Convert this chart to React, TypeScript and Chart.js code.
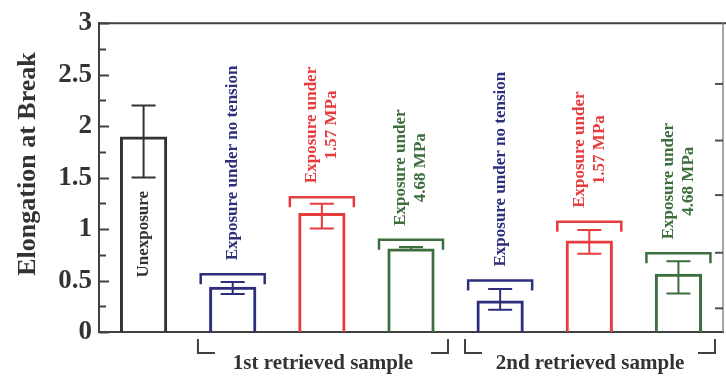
import React, { useEffect, useRef } from "react";
import { Chart, registerables } from "chart.js";

Chart.register(...registerables);

// ---------- data ----------
const categories = [
  "Unexposure",
  "1st: no tension",
  "1st: 1.57 MPa",
  "1st: 4.68 MPa",
  "2nd: no tension",
  "2nd: 1.57 MPa",
  "2nd: 4.68 MPa",
];
const meanValues = [1.9, 0.44, 1.155, 0.81, 0.305, 0.89, 0.566];
const errLow = [1.5, 0.37, 1.005, 0.8, 0.217, 0.76, 0.375];
const errHigh = [2.2, 0.485, 1.245, 0.825, 0.417, 0.99, 0.688];
const bracketLevels: (number | null)[] = [null, 0.56, 1.31, 0.895, 0.5, 1.07, 0.764];
const barLabels: string[][] = [
  ["Unexposure"],
  ["Exposure under no tension"],
  ["Exposure under", "1.57 MPa"],
  ["Exposure under", "4.68 MPa"],
  ["Exposure under no tension"],
  ["Exposure under", "1.57 MPa"],
  ["Exposure under", "4.68 MPa"],
];
const barColors = ["#333333", "#2d2f7c", "#e63c3e", "#3d6e3d", "#2d2f7c", "#e63c3e", "#3d6e3d"];
const yAxisTitle = "Elongation at Break";
const groupLabels = ["1st retrieved sample", "2nd retrieved sample"];
// bracket spans in category-index units
const groupSpans = [
  [0.61, 3.415],
  [3.606, 6.41],
];
const rightAxisTicks = [0.23, 0.77, 1.33, 1.86, 2.41];

const SERIF = '"Liberation Serif", "DejaVu Serif", serif';
const AXIS_COLOR = "#404040";
const TEXT_COLOR = "#333333";

const overlayPlugin = {
  id: "overlay",
  afterDatasetsDraw(chart: any) {
    const ctx: CanvasRenderingContext2D = chart.ctx;
    const xs = chart.scales.x;
    const ys = chart.scales.y;
    const area = chart.chartArea;
    ctx.save();

    // top border
    ctx.strokeStyle = AXIS_COLOR;
    ctx.lineWidth = 2;
    ctx.beginPath();
    ctx.moveTo(area.left - 1, area.top);
    ctx.lineTo(chart.width, area.top);
    ctx.stroke();

    // left inward ticks (major + minor)
    for (let v = 0; v <= 3.0001; v += 0.25) {
      const py = Math.round(ys.getPixelForValue(v)) + 0.5;
      const major = Math.abs(v * 2 - Math.round(v * 2)) < 1e-6;
      ctx.beginPath();
      ctx.moveTo(area.left, py);
      ctx.lineTo(area.left + (major ? 10 : 7), py);
      ctx.stroke();
    }

    // right axis (neighbouring panel)
    ctx.strokeStyle = "#8a8a8a";
    ctx.lineWidth = 1.5;
    ctx.beginPath();
    ctx.moveTo(area.right, area.top);
    ctx.lineTo(area.right, area.bottom);
    ctx.stroke();
    ctx.strokeStyle = "#505050";
    ctx.lineWidth = 2;
    rightAxisTicks.forEach((v) => {
      const py = ys.getPixelForValue(v);
      ctx.beginPath();
      ctx.moveTo(area.right - 8, py);
      ctx.lineTo(area.right, py);
      ctx.stroke();
    });

    // error bars, brackets and rotated labels
    meanValues.forEach((m, i) => {
      const cx = xs.getPixelForValue(i);
      const color = barColors[i];
      ctx.strokeStyle = color;
      ctx.fillStyle = color;
      const yl = ys.getPixelForValue(errLow[i]);
      const yh = ys.getPixelForValue(errHigh[i]);
      ctx.lineWidth = 2;
      ctx.beginPath();
      ctx.moveTo(cx, yl);
      ctx.lineTo(cx, yh);
      ctx.moveTo(cx - 12, yl);
      ctx.lineTo(cx + 12, yl);
      ctx.moveTo(cx - 12, yh);
      ctx.lineTo(cx + 12, yh);
      ctx.stroke();

      const lines = barLabels[i];
      const b = bracketLevels[i];
      if (b === null) {
        ctx.save();
        ctx.font = `bold 17px ${SERIF}`;
        ctx.fillStyle = TEXT_COLOR;
        ctx.translate(cx, ys.getPixelForValue(m / 2));
        ctx.rotate(-Math.PI / 2);
        ctx.textAlign = "center";
        ctx.textBaseline = "middle";
        ctx.fillText(lines[0], 0, 0);
        ctx.restore();
        return;
      }
      const by = ys.getPixelForValue(b);
      ctx.lineWidth = 2.5;
      ctx.beginPath();
      ctx.moveTo(cx - 32, by + 10);
      ctx.lineTo(cx - 32, by);
      ctx.lineTo(cx + 32, by);
      ctx.lineTo(cx + 32, by + 10);
      ctx.stroke();

      ctx.save();
      ctx.font = `bold 17px ${SERIF}`;
      const maxW = Math.max(...lines.map((l) => ctx.measureText(l).width));
      const centerY = by - 14 - maxW / 2;
      lines.forEach((line, k) => {
        const lx = cx + (k - (lines.length - 1) / 2) * 20;
        ctx.save();
        ctx.translate(lx, centerY);
        ctx.rotate(-Math.PI / 2);
        ctx.textAlign = "center";
        ctx.textBaseline = "middle";
        ctx.fillText(line, 0, 0);
        ctx.restore();
      });
      ctx.restore();
    });

    // y-axis title
    ctx.save();
    ctx.fillStyle = TEXT_COLOR;
    ctx.font = `bold 26px ${SERIF}`;
    ctx.translate(28, 164);
    ctx.rotate(-Math.PI / 2);
    ctx.textAlign = "center";
    ctx.textBaseline = "middle";
    ctx.fillText(yAxisTitle, 0, 0);
    ctx.restore();

    // group brackets and labels under the axis
    ctx.strokeStyle = AXIS_COLOR;
    ctx.lineWidth = 2;
    const top = area.bottom + 7;
    const bot = area.bottom + 21;
    groupSpans.forEach(([a, z], g) => {
      const xa = xs.getPixelForValue(a);
      const xz = xs.getPixelForValue(z);
      ctx.beginPath();
      ctx.moveTo(xa, top);
      ctx.lineTo(xa, bot);
      ctx.lineTo(xa + 17, bot);
      ctx.moveTo(xz - 17, bot);
      ctx.lineTo(xz, bot);
      ctx.lineTo(xz, top);
      ctx.stroke();
      ctx.fillStyle = TEXT_COLOR;
      ctx.font = `bold 21px ${SERIF}`;
      ctx.textAlign = "center";
      ctx.textBaseline = "alphabetic";
      ctx.fillText(groupLabels[g], (xa + xz) / 2, area.bottom + 37);
    });

    ctx.restore();
  },
};

export default function App() {
  const canvasRef = useRef<HTMLCanvasElement | null>(null);

  useEffect(() => {
    if (!canvasRef.current) return;
    const chart = new Chart(canvasRef.current, {
      type: "bar",
      data: {
        labels: categories,
        datasets: [
          {
            data: meanValues,
            backgroundColor: "rgba(255,255,255,0)",
            borderColor: barColors,
            borderWidth: 3,
            categoryPercentage: 1,
            barPercentage: 0.53,
          },
        ],
      },
      options: {
        animation: false,
        responsive: false,
        devicePixelRatio: 1,
        layout: { padding: { top: 18, right: 3, left: 0, bottom: 0 } },
        plugins: {
          legend: { display: false },
          tooltip: { enabled: false },
        },
        scales: {
          x: {
            type: "category",
            grid: { display: false, drawTicks: false },
            border: { display: true, color: AXIS_COLOR, width: 2 },
            ticks: { display: false },
            afterFit: (s: any) => {
              s.height = 44;
            },
          },
          y: {
            min: 0,
            max: 3,
            ticks: {
              stepSize: 0.5,
              color: TEXT_COLOR,
              padding: 7,
              font: { family: SERIF, size: 27, weight: "bold" },
              callback: (v: any) => String(Number(v)),
            },
            grid: { display: false, drawTicks: false },
            border: { display: true, color: AXIS_COLOR, width: 2 },
            afterFit: (s: any) => {
              s.width = 99;
            },
          },
        },
      },
      plugins: [overlayPlugin],
    });
    return () => chart.destroy();
  }, []);

  return (
    <div style={{ position: "fixed", left: 0, top: 0, width: 726, height: 376, background: "#fff" }}>
      <canvas ref={canvasRef} width={726} height={376} style={{ display: "block" }} />
    </div>
  );
}
